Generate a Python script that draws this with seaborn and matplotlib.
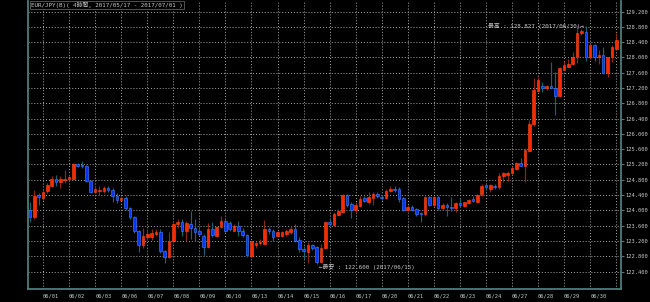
import matplotlib
matplotlib.use("Agg")
import matplotlib.pyplot as plt
import numpy as np
import pandas as pd
import seaborn as sns

# ---------------- data (4-hour candles, EUR/JPY) ----------------
opens = [124.02, 123.83, 124.39, 124.32, 124.50, 124.63, 124.83, 124.75, 124.80, 124.81,
         124.83, 125.22, 125.19, 125.17, 124.77, 124.48, 124.50, 124.50, 124.58, 124.54,
         124.38, 124.28, 124.32, 124.05, 123.83, 123.45, 123.10, 123.30, 123.30, 123.38,
         123.43, 122.93, 122.78, 123.21, 123.63, 123.69, 123.47, 123.64, 123.54, 123.45,
         123.34, 123.05, 123.50, 123.34, 123.56, 123.73, 123.67, 123.47, 123.60, 123.47,
         123.35, 122.81, 123.10, 123.14, 123.12, 123.50, 123.47, 123.33, 123.33, 123.38,
         123.43, 123.50, 123.23, 123.00, 122.92, 123.09, 123.03, 122.64, 123.02, 123.70,
         123.62, 123.88, 123.95, 124.40, 124.17, 124.01, 124.12, 124.31, 124.23, 124.31,
         124.43, 124.36, 124.31, 124.50, 124.57, 124.56, 124.32, 124.01, 124.10, 124.03,
         123.92, 123.90, 124.36, 124.14, 124.36, 124.05, 124.14, 124.08, 124.05, 124.19,
         124.12, 124.20, 124.30, 124.23, 124.43, 124.65, 124.57, 124.64, 124.62, 124.90,
         124.92, 124.97, 125.07, 125.23, 125.17, 125.56, 126.26, 127.13, 127.25, 127.19,
         127.25, 127.21, 126.99, 127.68, 127.75, 127.82, 128.02, 128.63, 128.67, 128.00,
         128.32, 128.02, 128.05, 127.60, 128.00, 128.23]
highs = [124.21, 124.52, 124.45, 124.52, 124.71, 124.90, 124.93, 124.89, 125.06, 124.93,
         125.23, 125.25, 125.29, 125.19, 124.80, 124.63, 124.64, 124.64, 124.64, 124.58,
         124.45, 124.37, 124.37, 124.10, 123.84, 123.48, 123.54, 123.50, 123.50, 123.50,
         123.50, 122.97, 123.43, 123.67, 123.77, 123.77, 123.73, 123.99, 123.77, 123.60,
         123.38, 123.66, 123.69, 123.60, 123.86, 123.77, 123.73, 123.64, 123.73, 123.54,
         123.38, 123.21, 123.19, 123.25, 123.75, 123.57, 123.51, 123.47, 123.47, 123.51,
         123.60, 123.64, 123.30, 123.08, 123.17, 123.12, 123.08, 123.12, 123.73, 123.77,
         123.95, 124.03, 124.43, 124.43, 124.21, 124.21, 124.37, 124.38, 124.49, 124.49,
         124.47, 124.40, 124.56, 124.64, 124.63, 124.60, 124.34, 124.14, 124.14, 124.07,
         123.95, 124.38, 124.38, 124.38, 124.38, 124.19, 124.19, 124.36, 124.23, 124.31,
         124.23, 124.30, 124.38, 124.43, 124.70, 124.70, 124.70, 124.69, 124.97, 125.01,
         125.04, 125.16, 125.27, 125.36, 125.62, 126.36, 127.45, 127.48, 127.36, 127.27,
         127.88, 127.62, 127.75, 127.91, 127.95, 128.15, 128.82, 128.73, 128.827, 128.35,
         128.35, 128.19, 128.28, 128.02, 128.32, 128.63]
lows = [123.69, 123.77, 124.15, 124.28, 124.45, 124.62, 124.63, 124.58, 124.71, 124.80,
        124.82, 125.13, 125.10, 124.73, 124.45, 124.45, 124.41, 124.45, 124.47, 124.23,
        124.19, 124.26, 124.02, 123.77, 123.41, 122.90, 123.02, 123.23, 123.23, 123.32,
        122.89, 122.63, 122.76, 123.15, 123.54, 123.34, 123.19, 123.25, 123.21, 123.34,
        122.82, 123.02, 123.30, 123.31, 123.54, 123.43, 123.45, 123.45, 123.34, 123.31,
        122.79, 122.79, 123.02, 123.10, 123.10, 123.38, 123.21, 123.30, 123.31, 123.34,
        123.38, 123.17, 122.90, 122.73, 122.62, 122.95, 122.60, 122.62, 123.00, 123.60,
        123.60, 123.86, 123.93, 124.10, 123.79, 123.95, 124.08, 124.23, 124.17, 124.14,
        124.31, 124.28, 124.30, 124.49, 124.49, 124.23, 123.97, 123.97, 123.98, 123.86,
        123.69, 123.86, 124.12, 124.12, 124.02, 124.03, 123.86, 123.99, 123.95, 124.10,
        124.08, 124.17, 124.21, 124.19, 124.37, 124.57, 124.49, 124.55, 124.57, 124.75,
        124.77, 124.95, 125.05, 125.16, 124.75, 125.53, 126.20, 127.10, 127.10, 127.14,
        127.19, 126.49, 126.97, 127.67, 127.74, 127.80, 127.86, 128.58, 127.91, 127.97,
        127.91, 127.84, 127.56, 127.48, 127.88, 128.21]
closes = [123.83, 124.38, 124.34, 124.48, 124.65, 124.83, 124.75, 124.82, 124.83, 124.86,
          125.22, 125.17, 125.15, 124.76, 124.48, 124.55, 124.53, 124.58, 124.54, 124.37,
          124.28, 124.32, 124.05, 123.82, 123.45, 123.10, 123.32, 123.39, 123.41, 123.43,
          122.93, 122.78, 123.21, 123.64, 123.69, 123.47, 123.66, 123.54, 123.43, 123.38,
          123.05, 123.50, 123.36, 123.57, 123.73, 123.47, 123.50, 123.60, 123.47, 123.35,
          122.83, 123.19, 123.15, 123.17, 123.50, 123.45, 123.31, 123.43, 123.43, 123.47,
          123.50, 123.19, 122.98, 122.93, 123.09, 123.02, 122.64, 123.02, 123.69, 123.64,
          123.90, 123.97, 124.40, 124.14, 124.02, 124.14, 124.30, 124.25, 124.34, 124.42,
          124.37, 124.31, 124.51, 124.57, 124.54, 124.30, 124.01, 124.10, 124.02, 123.90,
          123.90, 124.36, 124.14, 124.36, 124.05, 124.14, 124.08, 124.05, 124.19, 124.14,
          124.21, 124.27, 124.24, 124.40, 124.63, 124.62, 124.66, 124.60, 124.91, 124.97,
          124.97, 125.12, 125.24, 125.17, 125.58, 126.27, 127.14, 127.42, 127.19, 127.25,
          127.21, 126.99, 127.71, 127.80, 127.84, 128.02, 128.63, 128.69, 128.00, 128.32,
          128.02, 128.06, 127.58, 128.00, 128.26, 128.45]

date_labels = ["06/01", "06/02", "06/03", "06/06", "06/07", "06/08", "06/09", "06/10",
               "06/13", "06/14", "06/15", "06/16", "06/17", "06/20", "06/21", "06/22",
               "06/23", "06/24", "06/27", "06/28", "06/29", "06/30"]
price_ticks = [122.4, 122.8, 123.2, 123.6, 124.0, 124.4, 124.8, 125.2, 125.6, 126.0,
               126.4, 126.8, 127.2, 127.6, 128.0, 128.4, 128.8, 129.2]
title_text = "EUR/JPY(B)( 4時間, 2017/05/17 - 2017/07/01 )"
high_text = "最高 : 128.827 (2017/06/30)→"
low_text = "←最安 : 122.600 (2017/06/15)"

# ---------------- style ----------------
sns.set_theme(style="dark", rc={"axes.facecolor": "black", "figure.facecolor": "black"})
plt.rcParams["font.family"] = ["DejaVu Sans Mono", "Noto Sans CJK JP"]

df = pd.DataFrame({"open": opens, "high": highs, "low": lows, "close": closes})
df["i"] = np.arange(len(df))
df["up"] = df["close"] >= df["open"]

UP_FACE, UP_EDGE, UP_WICK = "#ff2800", "#ff4a1a", "#8c2a10"
DN_FACE, DN_EDGE, DN_WICK = "#0a32ff", "#3f86ff", "#1d6272"
SPINE = "#4d7d7d"
TXT = "#c8c8c8"
GRID = "#a8a8a8"
FS = 3.9

fig = plt.figure(figsize=(6.5, 3.02), dpi=100)
ax = fig.add_axes([28 / 650, 13 / 302, (621 - 28) / 650, 288 / 302])
ax.set_facecolor("black")

# grid
xt = [3 + 6 * k for k in range(len(date_labels) + 1)]
ax.set_xticks(xt)
ax.set_xticklabels(date_labels + [""])
ax.set_yticks(price_ticks)
ax.set_yticklabels([f"{v:.3f}" for v in price_ticks])
ax.grid(True, color=GRID, linestyle=(0, (1, 2)), linewidth=0.7)
ax.set_axisbelow(True)

# wicks
wick_colors = np.where(df["up"], UP_WICK, DN_WICK)
ax.vlines(df["i"], df["low"], df["high"], colors=wick_colors, linewidth=0.85, zorder=2)

# bodies
body_bottom = np.minimum(df["open"], df["close"])
body_h = np.maximum(np.abs(df["close"] - df["open"]), 0.025)
ax.bar(df["i"], body_h, bottom=body_bottom, width=0.6,
       color=np.where(df["up"], UP_FACE, DN_FACE),
       edgecolor=np.where(df["up"], UP_EDGE, DN_EDGE), linewidth=0.4, zorder=3)

ax.set_xlim(-0.46, 136.1)
ax.set_ylim(121.943, 129.475)

# axes decoration
for s in ["left", "right", "bottom"]:
    ax.spines[s].set_visible(True)
    ax.spines[s].set_color(SPINE)
    ax.spines[s].set_linewidth(1.3)
ax.spines["top"].set_visible(False)
ax.yaxis.tick_right()
ax.tick_params(axis="y", which="both", length=2.5, width=0.8, color=SPINE,
               labelcolor=TXT, labelsize=FS, pad=0.8, left=False, right=True)
ax.tick_params(axis="x", length=0, labelcolor=TXT, labelsize=FS, pad=3)
for lab in ax.get_xticklabels():
    lab.set_horizontalalignment("left")
ax.set_xlabel("")
ax.set_ylabel("")

# annotations
hi_idx = int(np.argmax(df["high"]))
lo_idx = int(np.argmin(df["low"]))
ax.text(hi_idx - 0.4, df["high"].iloc[hi_idx], high_text, color=TXT, fontsize=FS + 0.3,
        ha="right", va="center", zorder=5)
ax.text(lo_idx + 0.6, df["low"].iloc[lo_idx], low_text, color=TXT, fontsize=FS + 0.3,
        ha="left", va="top", zorder=5)

fig.text(31 / 650, 1 - 5 / 302, title_text, color=TXT, fontsize=FS + 0.3, ha="left",
         va="center",
         bbox=dict(facecolor="black", edgecolor="#707070", linewidth=0.5, pad=0.6))

fig.savefig("out.png", dpi=100, facecolor="black")
